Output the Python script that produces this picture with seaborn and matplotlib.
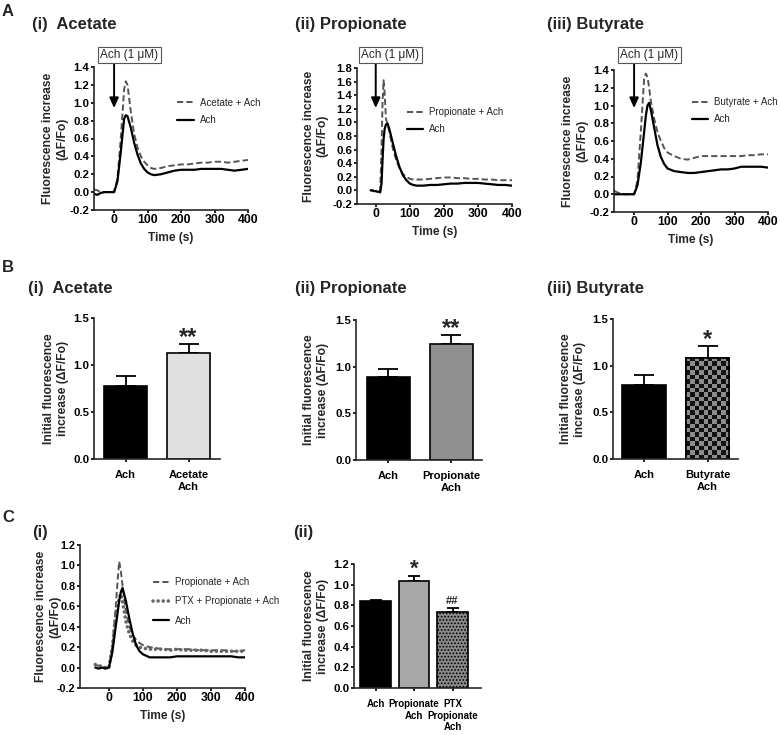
import numpy as np
import pandas as pd
import seaborn as sns
import matplotlib.pyplot as plt
from matplotlib.colors import ListedColormap
from matplotlib.patches import Rectangle
from matplotlib.ticker import FormatStrFormatter, MultipleLocator

# ---------------- data ----------------
# A(i) acetate traces
time_a1 = [-60, -50, -40, -30, -20, -10, 0, 10, 20, 30, 35, 40, 50, 60, 70, 80, 90, 100, 110, 120,
           140, 160, 180, 200, 220, 240, 260, 280, 300, 320, 340, 360, 380, 400]
acetate_ach = [0.03, 0.02, 0.0, 0.0, 0.0, 0.0, 0.0, 0.15, 0.6, 1.15, 1.24, 1.2, 0.9, 0.65, 0.5, 0.4,
               0.34, 0.3, 0.27, 0.26, 0.27, 0.29, 0.3, 0.31, 0.31, 0.32, 0.33, 0.33, 0.34, 0.34,
               0.33, 0.34, 0.35, 0.36]
ach_a1 = [-0.02, -0.03, -0.01, 0.0, 0.0, 0.0, 0.0, 0.12, 0.45, 0.82, 0.86, 0.85, 0.72, 0.55, 0.42,
          0.32, 0.26, 0.22, 0.2, 0.19, 0.2, 0.22, 0.24, 0.25, 0.25, 0.25, 0.26, 0.26, 0.26, 0.26,
          0.25, 0.24, 0.25, 0.26]

# A(ii) propionate traces
time_a2 = [-15, -10, -5, 0, 5, 10, 13, 17, 20, 23, 26, 30, 35, 40, 50, 60, 70, 80, 90, 100, 110,
           120, 140, 160, 180, 200, 220, 240, 260, 280, 300, 320, 340, 360, 380, 400]
propionate_ach = [0.0, 0.0, -0.01, -0.01, -0.02, -0.02, -0.02, 0.6, 1.3, 1.62, 1.45, 1.05, 0.97,
                  0.86, 0.62, 0.45, 0.32, 0.24, 0.2, 0.17, 0.16, 0.16, 0.16, 0.17, 0.18, 0.19,
                  0.19, 0.18, 0.18, 0.17, 0.17, 0.16, 0.16, 0.15, 0.15, 0.15]
ach_a2 = [0.0, 0.0, -0.01, -0.01, -0.02, -0.02, -0.03, 0.1, 0.45, 0.75, 0.9, 0.97, 0.98, 0.9, 0.7,
          0.5, 0.34, 0.22, 0.15, 0.1, 0.08, 0.07, 0.07, 0.08, 0.08, 0.09, 0.1, 0.1, 0.11, 0.11,
          0.11, 0.1, 0.09, 0.08, 0.08, 0.07]

# A(iii) butyrate traces
time_a3 = [-60, -50, -40, -30, -20, -10, 0, 10, 20, 30, 35, 40, 45, 50, 60, 70, 80, 90, 100, 120,
           140, 160, 180, 200, 220, 240, 260, 280, 300, 320, 340, 360, 380, 400]
butyrate_ach = [0.04, 0.02, 0.01, 0.0, 0.0, 0.0, 0.0, 0.15, 0.7, 1.3, 1.36, 1.32, 1.2, 1.05, 0.85,
                0.7, 0.6, 0.52, 0.47, 0.43, 0.4, 0.39, 0.41, 0.43, 0.43, 0.43, 0.43, 0.43, 0.43,
                0.43, 0.44, 0.44, 0.45, 0.45]
ach_a3 = [0.0, 0.0, 0.0, 0.0, 0.0, 0.0, 0.0, 0.1, 0.35, 0.7, 0.88, 1.0, 1.03, 0.95, 0.75, 0.55,
          0.42, 0.34, 0.29, 0.26, 0.25, 0.24, 0.24, 0.25, 0.26, 0.27, 0.28, 0.28, 0.29, 0.31,
          0.31, 0.31, 0.31, 0.3]

# C(i) PTX traces
time_c1 = [-40, -30, -20, -10, 0, 10, 20, 30, 35, 40, 50, 60, 70, 80, 90, 100, 120, 140, 160, 180,
           200, 220, 240, 260, 280, 300, 320, 340, 360, 380, 400]
prop_ach_c1 = [0.02, 0.02, 0.0, 0.0, 0.0, 0.2, 0.6, 1.04, 0.95, 0.8, 0.55, 0.4, 0.32, 0.27, 0.24,
               0.22, 0.2, 0.19, 0.18, 0.18, 0.18, 0.18, 0.18, 0.17, 0.17, 0.17, 0.17, 0.17, 0.16,
               0.16, 0.17]
ptx_prop_ach_c1 = [0.03, 0.02, 0.01, 0.0, 0.0, 0.2, 0.5, 0.68, 0.72, 0.65, 0.45, 0.33, 0.26, 0.22,
                   0.2, 0.19, 0.18, 0.18, 0.18, 0.17, 0.18, 0.17, 0.17, 0.17, 0.17, 0.16, 0.16,
                   0.16, 0.16, 0.16, 0.16]
ach_c1 = [0.0, -0.01, 0.0, -0.01, 0.0, 0.15, 0.4, 0.65, 0.74, 0.78, 0.65, 0.48, 0.33, 0.22, 0.16,
          0.13, 0.1, 0.1, 0.1, 0.1, 0.11, 0.11, 0.11, 0.11, 0.11, 0.11, 0.11, 0.11, 0.11, 0.1, 0.1]

# bar panels (mean, SEM)
b1_labels = ["Ach", "Acetate\nAch"]
b1_mean = [0.78, 1.13]
b1_sem = [0.105, 0.09]
b1_stars = ["", "**"]

b2_labels = ["Ach", "Propionate\nAch"]
b2_mean = [0.89, 1.24]
b2_sem = [0.09, 0.095]
b2_stars = ["", "**"]

b3_labels = ["Ach", "Butyrate\nAch"]
b3_mean = [0.79, 1.085]
b3_sem = [0.115, 0.13]
b3_stars = ["", "*"]

c2_labels = ["Ach", "Propionate\nAch", "PTX\nPropionate\nAch"]
c2_mean = [0.84, 1.04, 0.735]
c2_sem = [0.012, 0.04, 0.035]
c2_stars = ["", "*", "##"]

# ---------------- style ----------------
sns.set_style("ticks")
plt.rcParams['font.family'] = ['Liberation Sans', 'DejaVu Sans']
plt.rcParams['font.weight'] = 'bold'
plt.rcParams['axes.labelweight'] = 'bold'
plt.rcParams['axes.unicode_minus'] = False
plt.rcParams['axes.linewidth'] = 1.2
plt.rcParams['xtick.major.width'] = 1.2
plt.rcParams['ytick.major.width'] = 1.2
plt.rcParams['xtick.major.size'] = 2.5
plt.rcParams['ytick.major.size'] = 2.5
plt.rcParams['xtick.major.pad'] = 0.5
plt.rcParams['ytick.major.pad'] = 0.8
plt.rcParams['xtick.labelsize'] = 8.8
plt.rcParams['ytick.labelsize'] = 8.2
plt.rcParams['hatch.linewidth'] = 0.8

W, H = 780, 735
fig = plt.figure(figsize=(W / 100, H / 100), dpi=100)


def px_axes(left, top, right, bottom):
    return fig.add_axes([left / W, 1 - bottom / H, (right - left) / W, (bottom - top) / H])


def ftext(x, y, s, **kw):
    fig.text(x / W, 1 - y / H, s, **kw)


def style_axes(ax):
    sns.despine(ax=ax)
    ax.tick_params(direction='out', colors='black')


def trace_panel(box, time, series, labels, styles, xlim, ylim, leg_xy, label_x,
                arrow=None, labelspacing=0.75, label_ls=1.22, ytick_size=8.2):
    ax = px_axes(*box)
    for vals, lab, (col, ls, lw, cap) in zip(series, labels, styles):
        df = pd.DataFrame({"Time (s)": time, "dF": vals})
        sns.lineplot(data=df, x="Time (s)", y="dF", color=col, linestyle=ls, lw=lw,
                     dash_capstyle=cap, label=lab, ax=ax)
    ax.set_xlim(*xlim)
    ax.set_ylim(*ylim)
    ax.set_xticks([0, 100, 200, 300, 400])
    ax.yaxis.set_major_locator(MultipleLocator(0.2))
    ax.yaxis.set_major_formatter(FormatStrFormatter('%.1f'))
    ax.set_xlabel("Time (s)", fontsize=8.6, labelpad=4)
    ax.set_ylabel("Fluorescence increase\n(\u0394F/Fo)", fontsize=8.7, linespacing=label_ls)
    ax.yaxis.set_label_coords(label_x, 0.5)
    style_axes(ax)
    ax.tick_params(axis='y', labelsize=ytick_size)
    leg = ax.legend(loc='upper left', bbox_to_anchor=leg_xy, frameon=False,
                    prop={'weight': 'normal', 'size': 7}, handlelength=1.7,
                    handletextpad=0.6, labelspacing=labelspacing, borderpad=0,
                    borderaxespad=0)
    for lh, st in zip(leg.get_lines(), styles):
        lh.set_dash_capstyle(st[3])
    if arrow is not None:
        ax.annotate('', xy=(0, arrow[1]), xycoords=('data', 'axes fraction'),
                    xytext=(0, arrow[0]), textcoords=('data', 'axes fraction'),
                    arrowprops=dict(arrowstyle='-|>,head_length=0.6,head_width=0.27',
                                    color='black', lw=1.4, shrinkA=0, shrinkB=0),
                    annotation_clip=False)
    return ax


def bar_panel(box, labels, means, sems, colors, stars, xlim, ylim, ystep, label_x,
              width, capsize, star_fmt, cat_size):
    ax = px_axes(*box)
    sns.barplot(x=labels, y=means, hue=labels, palette=colors, width=width,
                edgecolor='black', linewidth=1.2, legend=False, ax=ax)
    ax.errorbar(range(len(labels)), means, yerr=[np.zeros(len(means)), sems], fmt='none',
                ecolor='black', elinewidth=1.3, capsize=capsize, capthick=1.3, zorder=0.5)
    for i, s in enumerate(stars):
        if s:
            size, dy = star_fmt[s]
            ax.annotate(s, xy=(i, means[i] + sems[i]), xytext=(0, dy),
                        textcoords='offset points', ha='center', va='baseline',
                        fontsize=size, fontweight='bold')
    ax.set_xlim(*xlim)
    ax.set_ylim(*ylim)
    ax.yaxis.set_major_locator(MultipleLocator(ystep))
    ax.yaxis.set_major_formatter(FormatStrFormatter('%.1f'))
    ax.set_ylabel("Initial fluorescence\nincrease (\u0394F/Fo)", fontsize=8.7, linespacing=1.22)
    ax.yaxis.set_label_coords(label_x, 0.5)
    ax.set_xlabel("")
    style_axes(ax)
    ax.tick_params(axis='x', pad=5.5, labelsize=cat_size)
    for t in ax.get_xticklabels():
        t.set_linespacing(1.2)
    return ax


dash = (0, (3.2, 1.6))
dot = (0, (0.01, 1.4))
solid = '-'

# ---------------- row A ----------------
ftext(2, 11, "A", fontsize=12, fontweight='bold', va='center')
ftext(32, 25, "(i)  Acetate", fontsize=12, fontweight='bold', va='center')
ftext(295, 25, "(ii) Propionate", fontsize=12, fontweight='bold', va='center')
ftext(547, 25, "(iii) Butyrate", fontsize=12, fontweight='bold', va='center')

pair_styles = [('#555555', dash, 1.4, 'butt'), ('black', solid, 1.6, 'butt')]
trace_panel((94, 67, 248, 210), time_a1, [acetate_ach, ach_a1], ["Acetate + Ach", "Ach"],
            pair_styles, (-60, 400), (-0.2, 1.4), (0.54, 0.785), -0.166, arrow=(1.028, 0.713))
trace_panel((357, 68, 512, 204), time_a2, [propionate_ach, ach_a2], ["Propionate + Ach", "Ach"],
            pair_styles, (-55, 400), (-0.2, 1.8), (0.32, 0.713), -0.184, arrow=(1.037, 0.706))
trace_panel((614, 70, 768, 212), time_a3, [butyrate_ach, ach_a3], ["Butyrate + Ach", "Ach"],
            pair_styles, (-60, 400), (-0.2, 1.4), (0.506, 0.81), -0.166, arrow=(1.049, 0.732))

box_kw = dict(fontsize=8.5, fontweight='normal', ha='center', va='center',
              bbox=dict(boxstyle='square,pad=0.18', fc='white', ec='#555555', lw=0.8))
ftext(129.5, 55, "Ach (1 \u03bcM)", **box_kw)
ftext(390.5, 55, "Ach (1 \u03bcM)", **box_kw)
ftext(649.5, 55, "Ach (1 \u03bcM)", **box_kw)

# ---------------- row B ----------------
ftext(2, 268, "B", fontsize=12, fontweight='bold', va='center')
ftext(28, 288, "(i)  Acetate", fontsize=12, fontweight='bold', va='center')
ftext(295, 288, "(ii) Propionate", fontsize=12, fontweight='bold', va='center')
ftext(547, 288, "(iii) Butyrate", fontsize=12, fontweight='bold', va='center')

star_b = {"*": (17, 0), "**": (17, 0)}
bar_panel((94, 318, 220, 459), b1_labels, b1_mean, b1_sem, ['black', '#e0e0e0'], b1_stars,
          (-0.5, 1.5), (0, 1.5), 0.5, -0.202, 0.68, 7, star_b, 8)
bar_panel((356, 320, 482, 460), b2_labels, b2_mean, b2_sem, ['black', '#8f8f8f'], b2_stars,
          (-0.51, 1.49), (0, 1.5), 0.5, -0.218, 0.68, 7, star_b, 8)
ax_b3 = bar_panel((613, 319, 738, 459), b3_labels, b3_mean, b3_sem, ['black', '#8c8c8c'],
                  b3_stars, (-0.49, 1.48), (0, 1.5), 0.5, -0.22, 0.69, 7, star_b, 8)

# checkerboard fill on the butyrate bar
bar = ax_b3.patches[1]
x0, y0, bw, bh = bar.get_x(), bar.get_y(), bar.get_width(), bar.get_height()
ext = bar.get_window_extent()
cols = 10
rows = int(round(ext.height / (ext.width / cols)))
checker = np.add.outer(np.arange(rows), np.arange(cols)) % 2
img = ax_b3.imshow(checker, extent=(x0, x0 + bw, y0, y0 + bh), aspect='auto',
                   cmap=ListedColormap(['#8c8c8c', '#111111']), interpolation='nearest',
                   zorder=bar.get_zorder() + 0.1)
img.set_clip_path(bar)
ax_b3.add_patch(Rectangle((x0, y0), bw, bh, fill=False, ec='black', lw=1.2,
                          zorder=bar.get_zorder() + 0.2))
ax_b3.set_xlim(-0.49, 1.48)
ax_b3.set_ylim(0, 1.5)

# ---------------- row C ----------------
ftext(2, 518, "C", fontsize=12, fontweight='bold', va='center')
ftext(32, 532, "(i)", fontsize=12, fontweight='bold', va='center')
ftext(293, 532, "(ii)", fontsize=12, fontweight='bold', va='center')

trace_panel((80, 545, 245, 688), time_c1, [prop_ach_c1, ptx_prop_ach_c1, ach_c1],
            ["Propionate + Ach", "PTX + Propionate + Ach", "Ach"],
            [('#555555', dash, 1.4, 'butt'), ('#666666', dot, 2.6, 'round'),
             ('black', solid, 1.6, 'butt')],
            (-85, 400), (-0.2, 1.2), (0.442, 0.776), -0.112, labelspacing=0.95, label_ls=1.3,
            ytick_size=7.8)

star_c = {"*": (16, 1.5), "##": (8, 3)}
ax_c2 = bar_panel((354, 564, 481, 688), c2_labels, c2_mean, c2_sem,
                  ['black', '#a8a8a8', '#8a8a8a'], c2_stars, (-0.56, 2.74), (0, 1.2), 0.2,
                  -0.2, 0.8, 4, star_c, 7)
ax_c2.patches[2].set_hatch('.....')

fig.savefig("out.png", dpi=100)
